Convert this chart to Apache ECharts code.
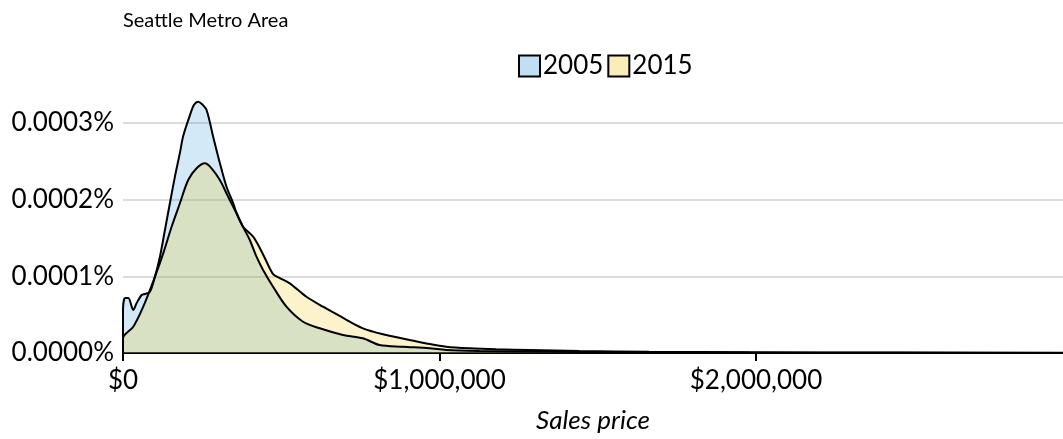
<!DOCTYPE html>
<html>
<head>
<meta charset="utf-8">
<script src="https://cdn.jsdelivr.net/npm/echarts@6/dist/echarts.min.js"></script>
<style>
  html, body { margin: 0; padding: 0; background: #fff; }
  #chart { width: 1063px; height: 439px; }
</style>
</head>
<body>
<div id="chart"></div>
<script>
// Kernel density of sale prices (density expressed in % per dollar)
const price2005 = [0, 0, 6300, 16700, 32500, 43200, 59000, 69400, 85200, 100900, 116700, 132500, 148300, 164000, 179800, 190200, 211400, 224000, 237500, 249200, 264000, 284900, 306000, 327100, 348000, 358700, 379500, 400600, 421800, 442600, 474100, 516400, 568800, 621500, 695000, 758000, 810700, 884200, 968500, 1021000, 1126000, 1252000, 1442000, 1662000, 1978000, 2451000, 2970000];
const density2005 = [0, 0.0000561, 0.0000717, 0.0000717, 0.0000561, 0.0000652, 0.0000757, 0.0000770, 0.0000800, 0.0000995, 0.0001256, 0.0001604, 0.0001956, 0.0002300, 0.0002610, 0.0002830, 0.0003100, 0.0003235, 0.0003278, 0.0003248, 0.0003169, 0.0002821, 0.0002478, 0.0002169, 0.0001956, 0.0001826, 0.0001643, 0.0001474, 0.0001256, 0.0001083, 0.0000865, 0.0000604, 0.0000408, 0.0000322, 0.0000235, 0.0000192, 0.0000104, 0.0000082, 0.0000061, 0.0000039, 0.0000026, 0.0000020, 0.0000013, 0.0000009, 0.0000005, 0.0000003, 0.0000001];

const price2015 = [0, 0, 32500, 64000, 100900, 127100, 153600, 179800, 206000, 232500, 258700, 279800, 306000, 332200, 358700, 379500, 411000, 432200, 451100, 474100, 495300, 526800, 579500, 631900, 684500, 758000, 831900, 905400, 968500, 1021000, 1094600, 1178900, 1283900, 1442000, 1662000, 1978000, 2451000, 2970000];
const density2015 = [0, 0.0000192, 0.0000343, 0.0000604, 0.0000995, 0.0001300, 0.0001647, 0.0001953, 0.0002256, 0.0002409, 0.0002474, 0.0002409, 0.0002256, 0.0002039, 0.0001822, 0.0001647, 0.0001517, 0.0001370, 0.0001213, 0.0001030, 0.0000978, 0.0000909, 0.0000734, 0.0000604, 0.0000483, 0.0000322, 0.0000235, 0.0000170, 0.0000117, 0.0000082, 0.0000061, 0.0000048, 0.0000039, 0.0000026, 0.0000016, 0.0000009, 0.0000005, 0.0000003];

const seriesNames = ['2005', '2015'];
const xTicks = [0, 1000000, 2000000];

const blueFill = 'rgba(52,152,219,0.31)';
const goldFill = 'rgba(241,196,15,0.30)';
const font = 'Lato, "Noto Sans", sans-serif';

const pairs = (xs, ys) => xs.map((x, i) => [x, ys[i]]);

const chart = echarts.init(document.getElementById('chart'), null, { renderer: 'canvas' });
chart.setOption({
  animation: false,
  backgroundColor: '#fff',
  textStyle: { fontFamily: font, color: '#000' },
  title: {
    text: 'Seattle Metro Area',
    left: 118, top: 6,
    textStyle: { fontFamily: font, fontSize: 20, fontWeight: 'normal', color: '#000' }
  },
  legend: {
    top: 48, left: 513,
    icon: 'rect', itemWidth: 21, itemHeight: 21, itemGap: 4,
    textStyle: { fontFamily: font, fontSize: 26, color: '#000', padding: [0, 0, 0, -2] },
    data: [
      { name: seriesNames[0], itemStyle: { color: blueFill, borderColor: '#000', borderWidth: 2 } },
      { name: seriesNames[1], itemStyle: { color: goldFill, borderColor: '#000', borderWidth: 2 } }
    ]
  },
  grid: { left: 123, right: 0, top: 123, bottom: 86, containLabel: false, outerBoundsMode: 'none' },
  xAxis: {
    type: 'value', min: 0, max: 2970000, interval: 1000000,
    name: 'Sales price', nameLocation: 'middle', nameGap: 55,
    nameTextStyle: { fontFamily: font, fontSize: 26, fontStyle: 'italic', color: '#000' },
    axisLine: { show: true, lineStyle: { color: '#000', width: 2 } },
    axisTick: { show: true, length: 8, customValues: xTicks, lineStyle: { color: '#000', width: 2 } },
    axisLabel: {
      customValues: xTicks, margin: 15,
      fontFamily: font, fontSize: 26, color: '#000',
      formatter: v => '$' + Math.round(v).toLocaleString('en-US')
    },
    splitLine: { show: false }
  },
  yAxis: {
    type: 'value', min: 0, max: 0.0003, interval: 0.0001,
    axisLine: { show: false },
    axisTick: { show: false },
    axisLabel: {
      margin: 9, fontFamily: font, fontSize: 26, color: '#000',
      formatter: v => v.toFixed(4) + '%'
    },
    splitLine: { show: true, lineStyle: { color: '#dcdcdc', width: 2 } }
  },
  series: [
    {
      name: seriesNames[0], type: 'line', data: pairs(price2005, density2005),
      showSymbol: false, clip: false, smooth: 0.3, color: blueFill,
      lineStyle: { color: '#000', width: 2 },
      areaStyle: { color: blueFill, origin: 'start' }
    },
    {
      name: seriesNames[1], type: 'line', data: pairs(price2015, density2015),
      showSymbol: false, clip: false, smooth: 0.3, color: goldFill,
      lineStyle: { color: '#000', width: 2 },
      areaStyle: { color: goldFill, origin: 'start' }
    }
  ]
});
</script>
</body>
</html>
